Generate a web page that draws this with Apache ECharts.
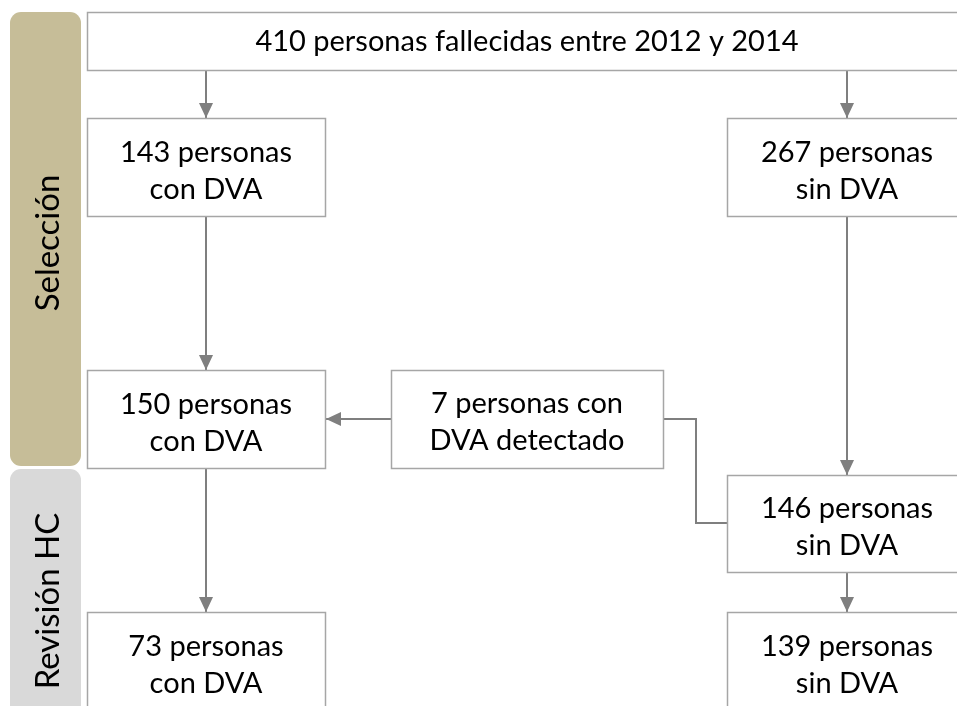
<!DOCTYPE html>
<html>
<head>
<meta charset="utf-8">
<script src="https://cdn.jsdelivr.net/npm/echarts@6/dist/echarts.min.js"></script>
<style>
  html, body { margin: 0; padding: 0; background: #fff; }
  #chart { width: 957px; height: 706px; }
</style>
</head>
<body>
<div id="chart"></div>
<script>
// flow counts and texts
const boxTexts = [
  '410 personas fallecidas entre 2012 y 2014',
  '143 personas\ncon DVA',
  '267 personas\nsin DVA',
  '150 personas\ncon DVA',
  '7 personas con\nDVA detectado',
  '146 personas\nsin DVA',
  '73 personas\ncon DVA',
  '139 personas\nsin DVA'
]
const phases = ['Selección', 'Revisión HC']

// layout (diagram units = pixels, y down)
const boxRects = [
  [87, 12, 975, 70],
  [87, 118, 325, 216],
  [727, 118, 975, 216],
  [87, 370, 325, 468],
  [391, 370, 663, 468],
  [727, 475, 975, 572],
  [87, 612, 325, 720],
  [727, 612, 975, 720]
]
const textPos = [
  [527, 42], [206, 171], [847, 171], [206, 423],
  [527, 422], [847, 527], [206, 665], [847, 665]
]
const phaseRects = [
  [10, 12, 81, 466, '#c6bd98'],
  [10, 469, 81, 730, '#d9d9d9']
]
const phaseTextPos = [[48, 243], [48, 601]]
const connectors = [
  { pts: [[206, 70], [206, 118]], arrow: true },
  { pts: [[847, 70], [847, 118]], arrow: true },
  { pts: [[206, 216], [206, 370]], arrow: true },
  { pts: [[847, 216], [847, 475]], arrow: true },
  { pts: [[391, 419], [326, 419]], arrow: true },
  { pts: [[663, 419], [696, 419], [696, 523], [727, 523]], arrow: false },
  { pts: [[206, 468], [206, 612]], arrow: true },
  { pts: [[847, 572], [847, 612]], arrow: true }
]

const FONT = 'Lato'
const FS = 29
const PHASE_FS = 33

const chart = echarts.init(document.getElementById('chart'))

chart.setOption({
  animation: false,
  grid: { left: 0, right: 0, top: 0, bottom: 0 },
  xAxis: { type: 'value', min: 0, max: 957, show: false },
  yAxis: { type: 'value', min: 0, max: 706, inverse: true, show: false },
  series: [
    {
      // phase bands
      type: 'custom',
      clip: false,
      data: phases.map((p, i) => i),
      renderItem(params, api) {
        const i = params.dataIndex
        const r = phaseRects[i]
        const a = api.coord([r[0], r[1]])
        const b = api.coord([r[2], r[3]])
        const t = api.coord(phaseTextPos[i])
        return {
          type: 'group',
          children: [
            {
              type: 'rect',
              shape: { x: a[0], y: a[1], width: b[0] - a[0], height: b[1] - a[1], r: 11 },
              style: { fill: r[4] }
            },
            {
              type: 'text',
              x: t[0],
              y: t[1],
              rotation: Math.PI / 2,
              style: {
                text: phases[i],
                fontFamily: FONT,
                fontSize: PHASE_FS,
                fill: '#000',
                align: 'center',
                verticalAlign: 'middle'
              }
            }
          ]
        }
      }
    },
    {
      // connectors
      type: 'custom',
      clip: false,
      data: connectors.map((c, i) => i),
      renderItem(params, api) {
        const c = connectors[params.dataIndex]
        const pts = c.pts.map(p => api.coord(p))
        const children = [{
          type: 'polyline',
          shape: { points: pts },
          style: { stroke: '#7f7f7f', lineWidth: 2, fill: null }
        }]
        if (c.arrow) {
          const e = pts[pts.length - 1]
          const s = pts[pts.length - 2]
          const len = Math.hypot(e[0] - s[0], e[1] - s[1])
          const dx = (e[0] - s[0]) / len
          const dy = (e[1] - s[1]) / len
          const L = 15
          const W = 7
          const bx = e[0] - dx * L
          const by = e[1] - dy * L
          children.push({
            type: 'polygon',
            shape: { points: [[e[0], e[1]], [bx - dy * W, by + dx * W], [bx + dy * W, by - dx * W]] },
            style: { fill: '#7f7f7f' }
          })
        }
        return { type: 'group', children }
      }
    },
    {
      // boxes
      type: 'custom',
      clip: false,
      data: boxTexts.map((t, i) => i),
      renderItem(params, api) {
        const i = params.dataIndex
        const r = boxRects[i]
        const a = api.coord([r[0], r[1]])
        const b = api.coord([r[2], r[3]])
        const t = api.coord(textPos[i])
        return {
          type: 'group',
          children: [
            {
              type: 'rect',
              shape: { x: a[0] + 0.5, y: a[1] + 0.5, width: b[0] - a[0], height: b[1] - a[1] },
              style: { fill: '#fff', stroke: '#a6a6a6', lineWidth: 1.5 }
            },
            {
              type: 'text',
              x: t[0],
              y: t[1],
              style: {
                text: boxTexts[i],
                fontFamily: FONT,
                fontSize: FS,
                lineHeight: 37,
                fill: '#000',
                align: 'center',
                verticalAlign: 'middle'
              }
            }
          ]
        }
      }
    }
  ]
})
</script>
</body>
</html>
